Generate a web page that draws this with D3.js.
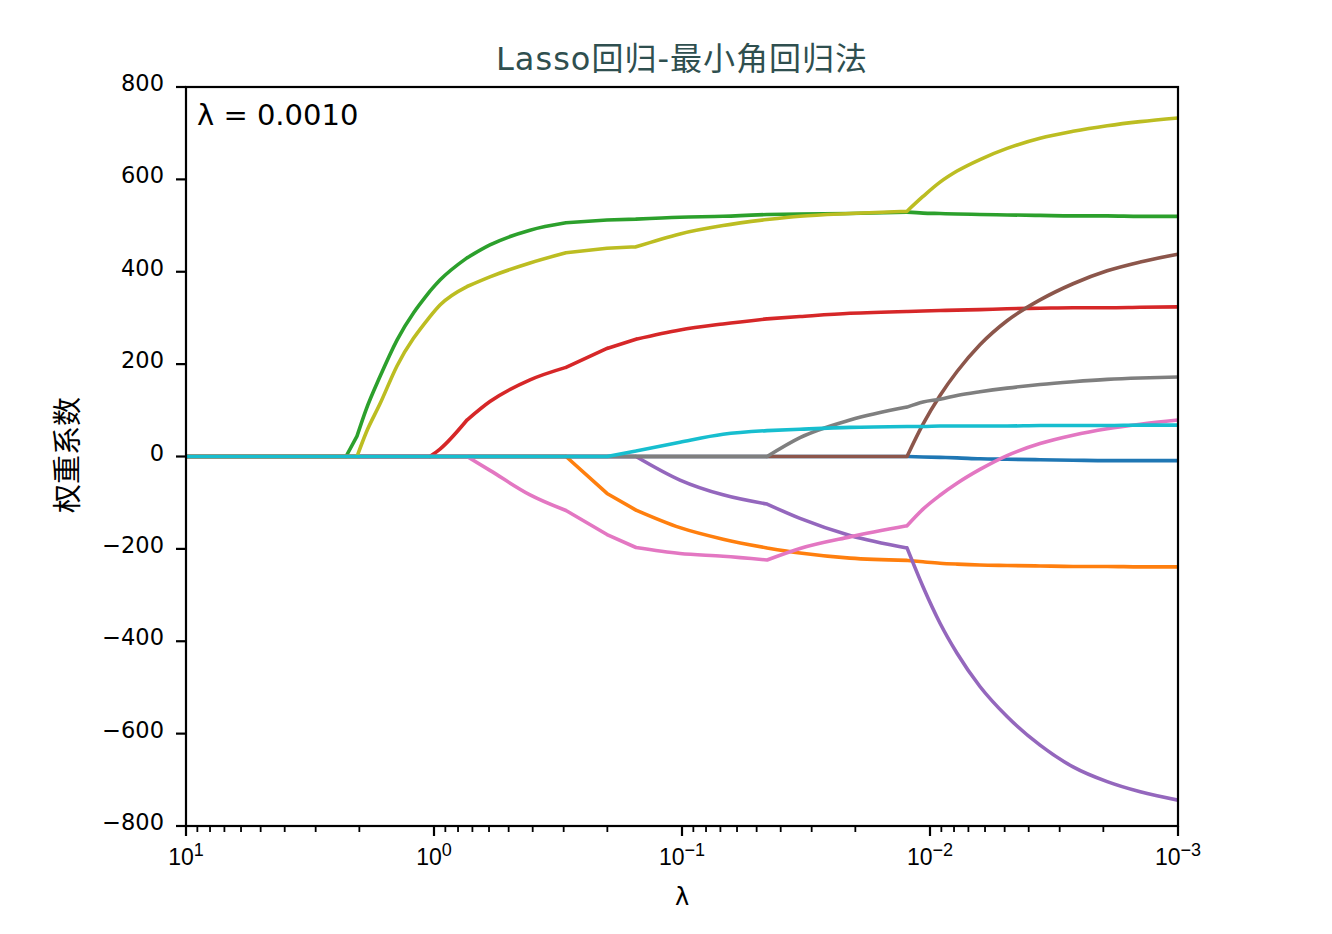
<!DOCTYPE html>
<html>
<head>
<meta charset="utf-8">
<script src="https://cdn.jsdelivr.net/npm/d3@7/dist/d3.min.js"></script>
<style>
  body { margin: 0; background: #fff; }
  svg { display: block; }
</style>
</head>
<body>
<div id="chart"></div>
<script>
// lambda grid (log scale, decreasing)
const lambdas = [10, 2.264, 2.044, 1.880, 1.651, 1.410, 1.038, 0.946, 0.736, 0.595,
  0.410, 0.2936, 0.2006, 0.1533, 0.1019, 0.0683, 0.0454, 0.03343, 0.02102, 0.01238,
  0.01067, 0.00911, 0.00778, 0.00629, 0.00489, 0.00360, 0.00265, 0.00193, 0.00142, 0.001];

// coefficient paths, one array per feature
const age = [0,0,0,0,0,0,0,0,0,0, 0,0,0,0,0,0,0,0,0,0, -1,-2,-3,-5,-6,-7,-8,-9,-9,-9];
const sex = [0,0,0,0,0,0,0,0,0,0, 0,0,-80,-116,-154,-179,-198,-209,-220,-225, -228,-231,-233,-235,-236,-237,-238,-238,-239,-239];
const bmi = [0,0,44,101,173,252,358,382,430,458, 490,506,512,514,518,520,524,525,526,529, 527,526,525,524,523,522,521,521,520,520];
const bp  = [0,0,0,0,0,0,0,16,79,119, 166,193,234,254,274,287,298,303,310,314, 315,316,317,318,320,321,322,322,323,324];
const s1  = [0,0,0,0,0,0,0,0,0,0, 0,0,0,0,-51,-83,-103,-134,-171,-198, -282,-361,-426,-498,-563,-625,-672,-704,-726,-744];
const s2  = [0,0,0,0,0,0,0,0,0,0, 0,0,0,0,0,0,0,0,0,0, 70,132,184,242,294,339,374,402,421,438];
const s3  = [0,0,0,0,0,0,0,0,0,-30, -83,-117,-169,-197,-210,-216,-224,-199,-174,-150, -114,-84,-58,-28,2,28,46,60,70,79];
const s4  = [0,0,0,0,0,0,0,0,0,0, 0,0,0,0,0,0,0,41,79,107, 118,124,132,140,148,156,162,167,170,172];
const s5  = [0,0,0,51,114,196,303,328,368,389, 419,441,451,454,482,500,513,520,526,531, 563,594,618,643,667,689,704,716,725,733];
const s6  = [0,0,0,0,0,0,0,0,0,0, 0,0,0,12,31,48,56,59,63,65, 65,66,66,66,66,67,67,67,68,68];

const series = [age, sex, bmi, bp, s1, s2, s3, s4, s5, s6];
const colors = ["#1f77b4", "#ff7f0e", "#2ca02c", "#d62728", "#9467bd",
                "#8c564b", "#e377c2", "#7f7f7f", "#bcbd22", "#17becf"];

const xTicks = [10, 1, 0.1, 0.01, 0.001];
const xTickExp = ["1", "0", "\u22121", "\u22122", "\u22123"];
const yTicks = [-800, -600, -400, -200, 0, 200, 400, 600, 800];

const titleText = "Lasso回归-最小角回归法";
const xLabel = "λ";
const yLabel = "权重系数";
const note = "λ = 0.0010";

// grid indices where the path has a kink (a feature enters or changes course)
const knots = [0, 1, 2, 6, 8, 11, 12, 13, 16, 19, 29];

const width = 1332, height = 934;
const plot = { left: 186, right: 1178, top: 87, bottom: 826 };
const latin = "'DejaVu Sans', 'Noto Sans CJK SC', sans-serif";

const svg = d3.select("#chart").append("svg")
  .attr("width", width)
  .attr("height", height);

const x = d3.scaleLog().domain([10, 0.001]).range([plot.left, plot.right]);
const y = d3.scaleLinear().domain([-800, 800]).range([plot.bottom, plot.top]);

// smooth between knots, sharp at knots
const seg = d3.line()
  .x(d => x(d[0]))
  .y(d => y(d[1]))
  .curve(d3.curveMonotoneX);

function pathFor(vals) {
  let d = "";
  for (let k = 0; k < knots.length - 1; k++) {
    const pts = [];
    for (let i = knots[k]; i <= knots[k + 1]; i++) pts.push([lambdas[i], vals[i]]);
    d += seg(pts);
  }
  return d;
}

svg.append("defs").append("clipPath").attr("id", "clip")
  .append("rect")
  .attr("x", plot.left).attr("y", plot.top)
  .attr("width", plot.right - plot.left).attr("height", plot.bottom - plot.top);

svg.append("g")
  .attr("clip-path", "url(#clip)")
  .selectAll("path")
  .data(series)
  .enter().append("path")
  .attr("d", pathFor)
  .attr("fill", "none")
  .attr("stroke", (d, i) => colors[i])
  .attr("stroke-width", 3.6)
  .attr("stroke-linejoin", "round")
  .attr("stroke-linecap", "round");

// minor ticks on the log axis
const minor = [];
for (let e = -3; e < 1; e++) {
  for (let m = 2; m <= 9; m++) minor.push(m * Math.pow(10, e));
}
svg.append("g").selectAll("line")
  .data(minor)
  .enter().append("line")
  .attr("x1", d => x(d)).attr("x2", d => x(d))
  .attr("y1", plot.bottom).attr("y2", plot.bottom + 6)
  .attr("stroke", "#000").attr("stroke-width", 1.8);

svg.append("g").selectAll("line")
  .data(xTicks)
  .enter().append("line")
  .attr("x1", d => x(d)).attr("x2", d => x(d))
  .attr("y1", plot.bottom).attr("y2", plot.bottom + 10)
  .attr("stroke", "#000").attr("stroke-width", 2.2);

const xt = svg.append("g").selectAll("text")
  .data(xTicks)
  .enter().append("text")
  .attr("x", d => x(d))
  .attr("y", 865)
  .attr("text-anchor", "middle")
  .style("font-family", "'Liberation Sans', Arial, sans-serif")
  .style("font-size", "23px")
  .attr("fill", "#000");
xt.append("tspan").text("10");
xt.append("tspan")
  .attr("dy", -9)
  .style("font-size", "18px")
  .text((d, i) => xTickExp[i]);

svg.append("g").selectAll("line")
  .data(yTicks)
  .enter().append("line")
  .attr("x1", plot.left - 10).attr("x2", plot.left)
  .attr("y1", d => y(d)).attr("y2", d => y(d))
  .attr("stroke", "#000").attr("stroke-width", 2.2);

svg.append("g").selectAll("text")
  .data(yTicks)
  .enter().append("text")
  .attr("x", 164)
  .attr("y", d => y(d) + 4)
  .attr("text-anchor", "end")
  .style("font-family", latin)
  .style("font-size", "22.5px")
  .attr("fill", "#000")
  .text(d => d < 0 ? "\u2212" + Math.abs(d) : String(d));

// frame
svg.append("rect")
  .attr("x", plot.left).attr("y", plot.top)
  .attr("width", plot.right - plot.left).attr("height", plot.bottom - plot.top)
  .attr("fill", "none")
  .attr("stroke", "#000")
  .attr("stroke-width", 2.2);

svg.append("text")
  .attr("x", (plot.left + plot.right) / 2)
  .attr("y", 70)
  .attr("text-anchor", "middle")
  .style("font-family", latin)
  .style("font-size", "32px")
  .style("letter-spacing", "1px")
  .attr("fill", "#2F4F4F")
  .text(titleText);

svg.append("text")
  .attr("x", 197)
  .attr("y", 125)
  .style("font-family", latin)
  .style("font-size", "29px")
  .attr("fill", "#000")
  .text(note);

svg.append("text")
  .attr("x", (plot.left + plot.right) / 2)
  .attr("y", 905)
  .attr("text-anchor", "middle")
  .style("font-family", latin)
  .style("font-size", "24px")
  .attr("fill", "#000")
  .text(xLabel);

svg.append("text")
  .attr("transform", "translate(78,455) rotate(-90)")
  .attr("text-anchor", "middle")
  .style("font-family", "'Noto Sans CJK SC', sans-serif")
  .style("font-size", "29px")
  .attr("fill", "#000")
  .text(yLabel);
</script>
</body>
</html>
